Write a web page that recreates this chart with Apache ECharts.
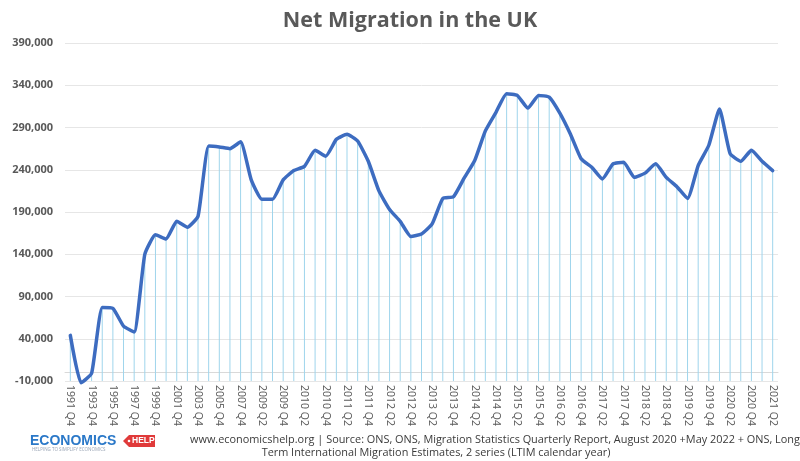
<!DOCTYPE html>
<html>
<head>
<meta charset="utf-8">
<script src="https://cdn.jsdelivr.net/npm/echarts@6/dist/echarts.min.js"></script>
<style>html,body{margin:0;padding:0;background:#fff;}#c{width:800px;height:461px;}</style>
</head>
<body>
<div id="c"></div>
<script>
const categories = [
  '1991 Q4','1992 Q4','1993 Q4','1994 Q4','1995 Q4','1996 Q4','1997 Q4','1998 Q4','1999 Q4','2000 Q4',
  '2001 Q4','2002 Q4','2003 Q4','2004 Q4','2005 Q4','2006 Q4','2007 Q4','2008 Q4',
  '2009 Q2','2009 Q3','2009 Q4','2010 Q1','2010 Q2','2010 Q3','2010 Q4','2011 Q1','2011 Q2','2011 Q3','2011 Q4',
  '2012 Q1','2012 Q2','2012 Q3','2012 Q4','2013 Q1','2013 Q2','2013 Q3','2013 Q4','2014 Q1','2014 Q2','2014 Q3','2014 Q4',
  '2015 Q1','2015 Q2','2015 Q3','2015 Q4','2016 Q1','2016 Q2','2016 Q3','2016 Q4','2017 Q1','2017 Q2','2017 Q3','2017 Q4',
  '2018 Q1','2018 Q2','2018 Q3','2018 Q4','2019 Q1','2019 Q2','2019 Q3','2019 Q4','2020 Q1','2020 Q2','2020 Q3','2020 Q4',
  '2021 Q1','2021 Q2'
];
const netMigration = [
  44000, -12000, -1000, 77000, 76000, 55000, 48000, 140000, 163000, 158000,
  179000, 172000, 185000, 268000, 267000, 265000, 273000, 228000,
  205000, 205000, 228000, 239000, 244000, 263000, 256000, 276000, 282000, 274000, 250000,
  215000, 193000, 179000, 161000, 164000, 176000, 206000, 208000, 230000, 251000, 286000, 308000,
  330000, 328000, 313000, 328000, 326000, 307000, 282000, 253000, 243000, 229000, 247000, 249000,
  231000, 236000, 247000, 231000, 220000, 206000, 245000, 269000, 312000, 259000, 250000, 263000,
  250000, 239000
];
const yTicks = { min: -10000, max: 390000, step: 50000 };
const titleText = 'Net Migration in the UK';
const footerLine1 = 'www.economicshelp.org | Source: ONS, ONS, Migration Statistics Quarterly Report, August 2020 +May 2022 + ONS, Long-';
const footerLine2 = 'Term International Migration Estimates, 2 series (LTIM calendar year)';

const chart = echarts.init(document.getElementById('c'), null, { renderer: 'canvas' });
const FONT = '"Open Sans", "Noto Sans", sans-serif';
chart.setOption({
  animation: false,
  backgroundColor: '#ffffff',
  title: {
    text: titleText, left: 405, textAlign: 'center', top: 5,
    textStyle: { fontFamily: FONT, fontSize: 21.5, fontWeight: 'bold', color: '#595959' }
  },
  grid: { left: 65, right: 22, top: 43, bottom: 80 },
  xAxis: {
    type: 'category', data: categories, boundaryGap: true,
    axisLine: { show: true, lineStyle: { color: '#d9d9d9', width: 1 } },
    axisTick: { show: false },
    axisLabel: { interval: 1, rotate: -90, fontFamily: FONT, fontSize: 10.5, color: '#595959', margin: 4 },
    splitLine: { show: false }
  },
  yAxis: {
    type: 'value', min: yTicks.min, max: yTicks.max, interval: yTicks.step,
    axisLine: { show: false }, axisTick: { show: false },
    axisLabel: {
      fontFamily: FONT, fontSize: 11, fontWeight: 'bold', color: '#595959', margin: 12,
      formatter: v => v.toLocaleString('en-US')
    },
    splitLine: { lineStyle: { color: '#e6e6e6', width: 1 } }
  },
  series: [
    {
      type: 'custom', z: 1, silent: true,
      data: netMigration.map((v, i) => [i, v]),
      renderItem: (params, api) => {
        const top = api.coord([api.value(0), api.value(1)]);
        const bot = api.coord([api.value(0), yTicks.min]);
        return { type: 'line', shape: { x1: top[0], y1: top[1], x2: bot[0], y2: bot[1] },
          style: { stroke: '#9fd5ec', lineWidth: 1 } };
      }
    },
    {
      type: 'line', z: 3, data: netMigration, smooth: 0.15, symbol: 'none', clip: false,
      lineStyle: { color: '#3d6cc0', width: 3.5, join: 'round', cap: 'round' }
    }
  ],
  graphic: [
    { type: 'text', left: 30, top: 434, style: { text: 'ECONOMICS', fontFamily: '"Liberation Sans", sans-serif', fontSize: 14, fontWeight: 900, fill: '#2a78c8' } },
    { type: 'polygon', shape: { points: [[123, 441], [129, 435], [155, 435], [155, 447], [129, 447]] }, style: { fill: '#e03a3a' } },
    { type: 'circle', shape: { cx: 129, cy: 441, r: 1.3 }, style: { fill: '#ffffff' } },
    { type: 'text', left: 132, top: 436.5, style: { text: 'HELP', fontFamily: '"Liberation Sans", sans-serif', fontSize: 8.5, fontWeight: 'bold', fill: '#ffffff' } },
    { type: 'text', left: 32, top: 447.5, style: { text: 'HELPING TO SIMPLIFY ECONOMICS', fontFamily: FONT, fontSize: 4.5, fill: '#9aa5b5' } },
    { type: 'text', left: 190, top: 434, style: { text: footerLine1, fontFamily: FONT, fontSize: 10.9, fill: '#3a3a3a' } },
    { type: 'text', x: 436, y: 447, style: { text: footerLine2, fontFamily: FONT, fontSize: 10.9, fill: '#3a3a3a', align: 'center' } }
  ]
});
</script>
</body>
</html>
